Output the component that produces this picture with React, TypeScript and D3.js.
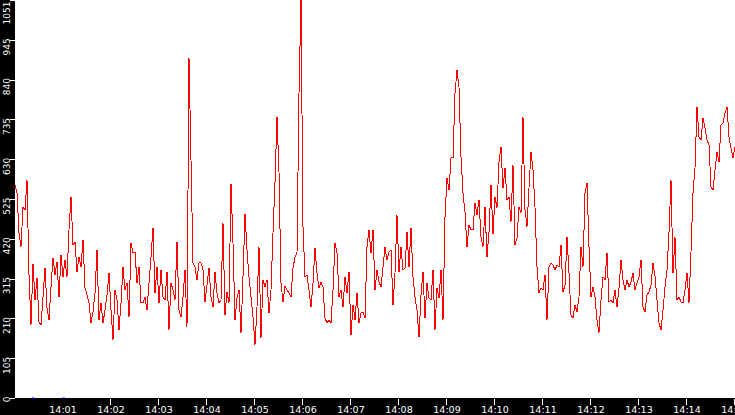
import React from "react";
import * as d3 from "d3";

const START = new Date(2000, 0, 1, 14, 0, 0);
const END = new Date(2000, 0, 1, 14, 15, 0);
const SAMPLE_SECONDS = 2.5;

const values: number[] = [
  563, 541, 436, 399, 504, 497, 576, 325, 193, 354, 259, 317, 201, 193, 267, 343, 238, 206, 293, 370,
  325, 359, 267, 378, 320, 364, 320, 444, 531, 404, 412, 333, 372, 346, 417, 291, 272, 251, 198, 227,
  277, 391, 206, 251, 198, 232, 272, 330,
  232, 153, 285, 259, 180, 251, 346, 285, 304, 214, 409, 383, 386, 304, 346, 251, 251, 267, 232, 304,
  372, 449, 277, 346, 251, 338, 267, 259, 333, 180, 304, 285, 259, 412, 232, 214, 267, 338, 188, 898,
  629, 357, 346, 312, 357,
  357, 338, 254, 298, 343, 267, 240, 333, 277, 251, 259, 462, 219, 280, 251, 565, 409, 206, 264, 285,
  172, 320, 486, 391, 320, 267, 214, 140, 240, 399, 158, 312, 293, 312, 224, 285, 436, 570, 742, 597,
  304, 254, 296, 285, 277, 267, 343,
  372, 383, 805, 1051, 452, 320, 325, 285, 240, 304, 396, 330, 291, 306, 293, 211, 198, 206, 198, 285,
  409, 383, 267, 285, 240, 320, 277, 333, 166, 246, 206, 277, 198, 224, 227, 211, 399, 444, 383, 444,
  285, 338, 306, 293, 346,
  399, 364, 386, 391, 246, 330, 483, 333, 399, 338, 343, 438, 346, 449, 320, 267, 232, 161, 272, 333,
  211, 304, 264, 259, 338, 180, 291, 264, 338, 206, 478, 581, 549, 634, 634, 805, 866, 821, 636, 541,
  491, 399, 457, 444, 444, 515, 483,
  523, 425, 399, 504, 372, 438, 563, 433, 531, 502, 623, 663, 555, 607, 523, 531, 465, 615, 404, 423,
  504, 489, 742, 497, 452, 555, 650, 602, 504, 346, 277, 291, 285, 325, 206, 346, 357, 351, 338, 351,
  346, 404, 280, 298, 425, 330,
  219, 211, 246, 227, 267, 399, 346, 541, 568, 399, 267, 293, 267, 206, 172, 259, 320, 312, 383, 254,
  259, 251, 285, 240, 291, 364, 312, 285, 312, 293, 306, 330, 285, 304, 320, 364, 240, 227, 272, 280,
  298, 357, 322, 259, 198, 180, 232,
  293, 338, 438, 576, 330, 425, 259, 267, 254, 251, 285, 330, 251, 386, 541, 607, 769, 689, 681, 739,
  713, 681, 668, 557, 549, 602, 650, 623, 721, 726, 753, 769, 689, 660, 634, 663,
];

const Y_MAX = 1051;
const yTickLabels = ["0", "105", "210", "315", "420", "525", "630", "735", "840", "945", "1051"];
const xTickLabels = [
  "14:01", "14:02", "14:03", "14:04", "14:05", "14:06", "14:07", "14:08",
  "14:09", "14:10", "14:11", "14:12", "14:13", "14:14", "14:15",
];
const markerSeconds = [22.5, 61];

const W = 735;
const H = 415;
const LEFT = 15;
const BOTTOM = 398;

export default function App() {
  const x = d3.scaleTime().domain([START, END]).range([LEFT, W]);
  const y = d3.scaleLinear().domain([0, Y_MAX]).range([BOTTOM, 0]);

  const data = values.map((v, i) => ({
    t: new Date(START.getTime() + i * SAMPLE_SECONDS * 1000),
    v,
  }));
  const line = d3
    .line<{ t: Date; v: number }>()
    .x((d) => x(d.t))
    .y((d) => y(d.v));

  const yTicks = yTickLabels.map((label, k) => ({ label, pos: y((Y_MAX * k) / 10) }));
  const xTicks = xTickLabels.map((label, k) => ({
    label,
    pos: x(new Date(START.getTime() + (k + 1) * 60000)),
    showTick: k > 0,
  }));

  return (
    <svg
      width={W}
      height={H}
      style={{ position: "absolute", left: 0, top: 0, display: "block" }}
      fontFamily="DejaVu Sans, sans-serif"
    >
      <rect x={0} y={0} width={W} height={H} fill="#ffffff" />
      <path d={line(data) || ""} fill="none" stroke="#ff0000" strokeWidth={1} shapeRendering="crispEdges" />
      <rect x={0} y={0} width={LEFT} height={H} fill="#000000" />
      <rect x={0} y={BOTTOM} width={W} height={H - BOTTOM} fill="#000000" />
      {markerSeconds.map((s, i) => (
        <rect
          key={i}
          x={x(new Date(START.getTime() + s * 1000)) - 1}
          y={BOTTOM - 0.5}
          width={2}
          height={1.5}
          fill="#0000ff"
        />
      ))}
      {yTicks.map((t, i) => (
        <g key={i}>
          <line x1={10} x2={LEFT} y1={Math.round(t.pos) + 0.5} y2={Math.round(t.pos) + 0.5} stroke="#ffffff" strokeWidth={1} shapeRendering="crispEdges" />
          <text
            transform={`translate(9.5,${Math.max(t.pos - 1.5, 1.5)}) rotate(-90)`}
            textAnchor="end"
            fontSize={9}
            fill="#ffffff"
          >
            {t.label}
          </text>
        </g>
      ))}
      {xTicks.map((t, i) => (
        <g key={i}>
          {t.showTick && (
            <line x1={Math.round(t.pos) - 0.5} x2={Math.round(t.pos) - 0.5} y1={399} y2={405} stroke="#ffffff" strokeWidth={1} shapeRendering="crispEdges" />
          )}
          <text x={t.pos} y={413} textAnchor="middle" fontSize={9.5} fill="#ffffff">
            {t.label}
          </text>
        </g>
      ))}
    </svg>
  );
}
